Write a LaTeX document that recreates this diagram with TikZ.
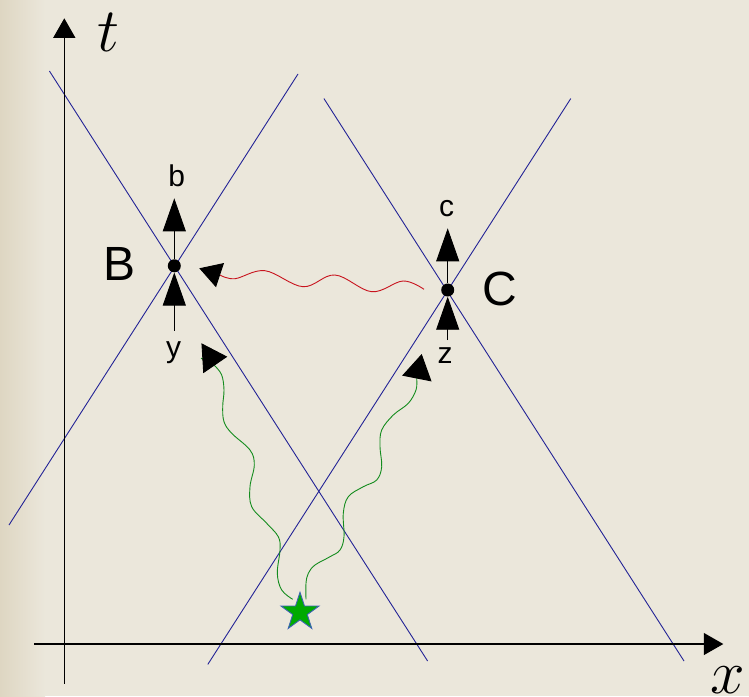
\RequirePackage{fix-cm}
\documentclass[tikz,border=0pt]{standalone}
\usepackage{fontspec}
\newfontfamily\labfont{Liberation Sans}
\usetikzlibrary{arrows.meta,shapes.geometric}
\definecolor{bgpaper}{RGB}{235,231,219}
\definecolor{bgedge}{RGB}{222,214,194}
\definecolor{coneblue}{RGB}{35,35,150}
\definecolor{wavered}{RGB}{200,20,30}
\definecolor{wavegreen}{RGB}{20,140,30}
\definecolor{stargreen}{RGB}{0,170,0}
\definecolor{staredge}{RGB}{60,100,180}
\begin{document}
\begin{tikzpicture}[x=1pt,y=-1pt,
 cone/.style={coneblue, line width=0.9pt},
 axis/.style={black, line width=1.1pt, -{Triangle[length=19.5pt,width=22pt]}},
 vec/.style={black, line width=0.9pt, -{Triangle[length=33pt,width=23pt]}},
 event/.style={circle, fill=black, inner sep=0pt, minimum size=13pt},
 smalllab/.style={anchor=base, inner sep=0pt, font=\labfont\fontsize{30}{36}\selectfont},
 biglab/.style={anchor=base, inner sep=0pt, font=\labfont\fontsize{48}{56}\selectfont},
 mathlab/.style={anchor=base, inner sep=0pt, font=\fontsize{62}{70}\selectfont},
 redwave/.style={wavered, line width=0.9pt, line join=round, -{Triangle[length=21.8pt,width=25.3pt,black]}},
 greenwave/.style={wavegreen, line width=0.9pt, line join=round, -{Triangle[length=25pt,width=29.8pt,black]}},
]
% background
\fill[bgpaper] (0,0) rectangle (749,696);
\shade[left color=bgedge, right color=bgpaper] (0,0) rectangle (45,696);
\useasboundingbox (0,0) rectangle (749,696);

% light cones
\draw[cone] (49.4,71) -- (427.6,661);
\draw[cone] (298,74) -- (9,525);
\draw[cone] (323.9,98.5) -- (684,661);
\draw[cone] (570.8,98.5) -- (207.8,664.4);

% axes
\coordinate (t0) at (64.3,683.5);
\coordinate (t1) at (64.3,18.3);
\coordinate (x0) at (34.4,644);
\coordinate (x1) at (723.3,644);
\draw[axis] (t0) -- (t1);
\draw[axis] (x0) -- (x1);
\node[mathlab] (lt) at (108,51) {$t$};
\node[mathlab] (lx) at (728,693) {$x$};

% events
\node[event] (B) at (174.3,265.8) {};
\node[event] (C) at (447.7,290) {};

% four-vectors
\coordinate (btip) at (174.3,198.3);
\coordinate (ybot) at (174.3,330.5);
\coordinate (ctip) at (447.7,228.3);
\coordinate (zbot) at (447.7,340);
\draw[vec] (B) -- (btip);
\draw[vec] (ybot) -- (B);
\draw[vec] (C) -- (ctip);
\draw[vec] (zbot) -- (C);

% labels
\node[smalllab] (lb) at (176.7,186.7) {b};
\node[smalllab] (ly) at (173.5,357) {y};
\node[smalllab] (lc) at (446.7,216.7) {c};
\node[smalllab] (lz) at (445,363.3) {z};
\node[biglab] (lB) at (120,280) {B};
\node[biglab] (lC) at (500,305.5) {C};

% red signal C -> B
\coordinate (rstart) at (424,289.3);
\coordinate (rtip) at (199.3,268.3);
\draw[redwave] plot[smooth, tension=0.6] coordinates {(rstart) (403,281) (371.7,291.7) (335,275) (303,286.7) (265,270.7) (235,278.7) (220.5,275.3)} -- (rtip);

% star source
\node[star, star points=5, star point ratio=2.618, minimum size=40pt, inner sep=0pt, fill=stargreen, draw=staredge, line width=0.9pt] (S) at (300,612.2) {};

% green signals from the star
\coordinate (gA0) at (292.7,599.3);
\coordinate (gAtip) at (227.3,356.7);
\draw[greenwave] plot[smooth, tension=0.6] coordinates {(gA0) (281.7,590) (277.3,573.3) (280,550) (278.3,536.7) (266.7,523.3) (251.7,506.7) (250,486.7) (254.3,465) (250,450) (231.7,433.3) (224,421.7) (222.7,406.7) (224,390) (221.7,375) (215,366)} -- (201.2,358.3) -- (gAtip);

\coordinate (gB0) at (306,599.3);
\coordinate (gBtip) at (421.7,354);
\draw[greenwave] plot[smooth, tension=0.6] coordinates {(gB0) (306,583.3) (308.3,573.3) (315,565) (330,556.7) (340,550) (344,536.7) (343.3,513.3) (348.3,496.7) (363.3,486.7) (376.7,480) (381.7,466.7) (380,446.7) (381.7,430) (393.3,415) (408.3,403.3) (416,390) (416.7,379.3)} -- (gBtip);
\end{tikzpicture}
\end{document}
